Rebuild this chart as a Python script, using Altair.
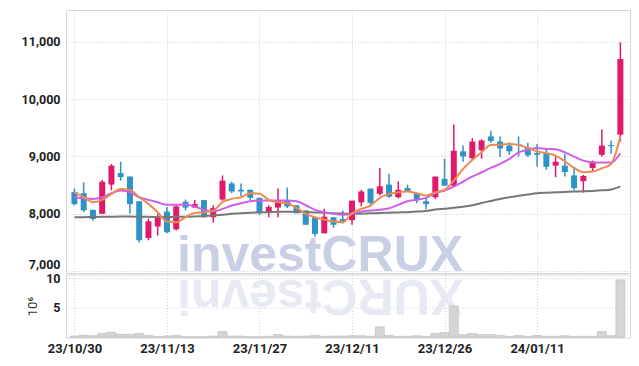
import json
import altair as alt
import pandas as pd

# ---- data ----
opens = [8380, 8360, 8070, 8000, 8510, 8710, 8650, 8220, 7580, 7780,
         8040, 7730, 8210, 8110, 8240, 7940, 8250, 8530, 8420, 8420,
         8280, 8030, 8110, 8240, 8150, 8060, 7940, 7660, 7940, 7910,
         7890, 8200, 8440, 8350, 8510, 8290, 8450, 8360, 8220, 8290,
         8610, 8490, 9090, 8970, 9110, 9350, 9260, 9190, 9210, 9160,
         9060, 9050, 8840, 8840, 8670, 8570, 8800, 9030, 9200, 9380]
closes = [8170, 8060, 7910, 8560, 8840, 8640, 8170, 7540, 7870, 7950,
          7680, 8130, 8110, 8170, 7940, 8100, 8580, 8390, 8390, 8280,
          8020, 8120, 8230, 8130, 8010, 7810, 7650, 7950, 7810, 7870,
          8230, 8390, 8190, 8480, 8300, 8420, 8390, 8240, 8170, 8650,
          8490, 9100, 9000, 9260, 9280, 9270, 9140, 9090, 9200, 9020,
          9030, 8820, 8910, 8730, 8450, 8660, 8890, 9190, 9180, 10700]
highs = [8440, 8550, 8070, 8590, 8870, 8910, 8650, 8220, 7920, 8000,
         8120, 8170, 8250, 8240, 8240, 8150, 8670, 8560, 8530, 8420,
         8280, 8150, 8440, 8460, 8150, 8060, 7940, 8090, 7940, 8060,
         8230, 8420, 8440, 8800, 8700, 8570, 8510, 8360, 8280, 8650,
         8960, 9560, 9190, 9320, 9300, 9450, 9350, 9250, 9350, 9240,
         9220, 9130, 9000, 9050, 8810, 8680, 8930, 9470, 9280, 10990]
lows = [8150, 8030, 7880, 8000, 8410, 8580, 8000, 7500, 7540, 7620,
        7660, 7710, 8060, 8100, 7940, 7850, 8230, 8360, 8310, 8230,
        7980, 7940, 7940, 8100, 8010, 7810, 7600, 7660, 7760, 7830,
        7810, 8130, 8160, 8320, 8280, 8270, 8380, 8190, 8080, 8260,
        8490, 8490, 8910, 8940, 8960, 9240, 8990, 9030, 9000, 8990,
        8820, 8770, 8640, 8650, 8410, 8370, 8730, 9000, 9050, 9260]
ma_short = [8376, 8290, 8203, 8244, 8348, 8435, 8418, 8290, 8174, 8028,
            7866, 7854, 7941, 8017, 8028, 8057, 8203, 8261, 8290, 8359,
            8350, 8244, 8203, 8185, 8105, 8000, 7941, 7900, 7866, 7854,
            8010, 8087, 8145, 8279, 8348, 8376, 8388, 8359, 8319, 8376,
            8418, 8580, 8784, 8941, 9073, 9202, 9207, 9220, 9202, 9150,
            9090, 9056, 9016, 8916, 8801, 8725, 8737, 8795, 8871, 9347]
ma_mid = [8290, 8272, 8261, 8290, 8359, 8406, 8376, 8290, 8244, 8203,
          8157, 8157, 8162, 8127, 8070, 8040, 8087, 8145, 8185, 8220,
          8232, 8232, 8232, 8232, 8220, 8150, 8070, 8030, 8000, 7985,
          8000, 8040, 8057, 8070, 8098, 8157, 8220, 8244, 8279, 8359,
          8406, 8476, 8563, 8650, 8725, 8801, 8871, 8958, 9073, 9115,
          9150, 9132, 9126, 9073, 8998, 8928, 8899, 8894, 8894, 9056]
ma_long = [7941, 7941, 7945, 7948, 7950, 7952, 7952, 7950, 7948, 7945,
           7945, 7948, 7950, 7955, 7960, 7970, 7985, 8000, 8012, 8020,
           8025, 8030, 8035, 8035, 8035, 8030, 8025, 8020, 8010, 8005,
           8000, 8005, 8010, 8015, 8020, 8025, 8030, 8040, 8050, 8075,
           8090, 8105, 8125, 8150, 8190, 8225, 8260, 8290, 8315, 8338,
           8358, 8368, 8375, 8382, 8388, 8393, 8400, 8410, 8425, 8480]
volume_m = [0.25, 0.4, 0.3, 0.7, 0.9, 0.55, 0.5, 0.7, 0.35, 0.15,
            0.25, 0.35, 0.15, 0.15, 0.15, 0.25, 1.0, 0.25, 0.25, 0.15,
            0.15, 0.2, 0.5, 0.25, 0.2, 0.25, 0.35, 0.2, 0.25, 0.25,
            0.3, 0.3, 0.2, 1.8, 0.35, 0.2, 0.2, 0.3, 0.2, 0.7,
            0.85, 5.3, 0.5, 0.7, 0.5, 0.5, 0.35, 0.2, 0.35, 0.2,
            0.35, 0.2, 0.2, 0.3, 0.2, 0.2, 0.2, 1.0, 0.3, 9.7]
tick_idx = [0, 10, 20, 30, 40, 50]
tick_labels = ["23/10/30", "23/11/13", "23/11/27", "23/12/11", "23/12/26", "24/01/11"]
price_ticks = [7000, 8000, 9000, 10000, 11000]
volume_ticks = [5, 10]
watermark = "investCRUX"

# ---- build table ----
n = len(opens)
df = pd.DataFrame({
    "i": list(range(n)), "open": opens, "high": highs, "low": lows, "close": closes,
    "ma_short": ma_short, "ma_mid": ma_mid, "ma_long": ma_long, "vol": volume_m,
})
df["dir"] = ["up" if c >= o else "down" for o, c in zip(opens, closes)]

RED = "#e2196b"
BLUE = "#2e93c6"
FONT = "Roboto"
GRID = "#c9cde0"

label_expr = f"{json.dumps(tick_labels)}[indexof({json.dumps(tick_idx)}, datum.value)]"
xscale = alt.Scale(domain=[-0.37, 59.5], nice=False, zero=False)

x_top = alt.X("i:Q", scale=xscale, title=None,
              axis=alt.Axis(values=tick_idx, labels=False, ticks=False, domain=False,
                            grid=True, gridColor=GRID, gridDash=[1, 2]))
x_bot = alt.X("i:Q", scale=xscale, title=None,
              axis=alt.Axis(values=tick_idx, labelExpr=label_expr, ticks=False, domain=False,
                            labelPadding=5, grid=True, gridColor=GRID, gridDash=[1, 2],
                            labelFont=FONT, labelFontSize=13, labelFontWeight="bold",
                            labelColor="#222"))

yscale = alt.Scale(domain=[6969, 11554], nice=False, zero=False)
y_price = alt.Y("low:Q", scale=yscale, title=None,
                axis=alt.Axis(values=price_ticks, format=",d", ticks=False, domain=False,
                              labelPadding=6, grid=True, gridColor=GRID, gridDash=[1, 2],
                              labelFont=FONT, labelFontSize=12.5, labelFontWeight="bold",
                              labelColor="#222",
                              labelBaseline=alt.condition("datum.value == 7000",
                                                          alt.value("bottom"),
                                                          alt.value("middle"))))

color = alt.Color("dir:N", scale=alt.Scale(domain=["up", "down"], range=[RED, BLUE]), legend=None)

base = alt.Chart(df)

wm = alt.Chart(pd.DataFrame({"t": [watermark]})).mark_text(
    align="left", baseline="alphabetic", font="'Liberation Sans', Arial, sans-serif",
    fontSize=50, fontWeight="bold", color="#c9d0e6"
).encode(text="t:N", x=alt.value(111), y=alt.value(261))

wicks = base.mark_rule(strokeWidth=1.5).encode(x=x_top, y=y_price, y2="high:Q", color=color)
bodies = base.mark_bar(size=6).encode(x=x_top, y=alt.Y("open:Q", scale=yscale), y2="close:Q", color=color)

line_long = base.mark_line(color="#777777", strokeWidth=2, interpolate="monotone").encode(
    x=x_top, y=alt.Y("ma_long:Q", scale=yscale))
line_mid = base.mark_line(color="#cf5fe8", strokeWidth=2, interpolate="monotone").encode(
    x=x_top, y=alt.Y("ma_mid:Q", scale=yscale))
line_short = base.mark_line(color="#ec8a52", strokeWidth=2, interpolate="monotone").encode(
    x=x_top, y=alt.Y("ma_short:Q", scale=yscale))

top = alt.layer(wm, wicks, bodies, line_long, line_mid, line_short).properties(width=564, height=263)

wm_ref = alt.Chart(pd.DataFrame({"t": [watermark[::-1]]})).mark_text(
    align="right", baseline="alphabetic", font="'Liberation Sans', Arial, sans-serif",
    fontSize=50, fontWeight="bold", color="#e8eaf3", angle=180
).encode(text="t:N", x=alt.value(111), y=alt.value(5))

vol_bars = base.mark_bar(size=9, color="#d5d5d5", stroke="#bcbcbc", strokeWidth=0.6).encode(
    x=x_bot,
    y=alt.Y("vol:Q", scale=alt.Scale(domain=[0, 10.6], nice=False),
            axis=alt.Axis(values=volume_ticks, ticks=False, domain=False, labelPadding=6,
                          grid=True, gridColor=GRID, gridDash=[1, 2],
                          labelFont=FONT, labelFontSize=12.5, labelFontWeight="bold",
                          labelColor="#222", title="10⁶", titleFont="Roboto",
                          titleFontSize=13, titleFontWeight="normal", titleColor="#333",
                          titlePadding=6)),
)
bottom = alt.layer(wm_ref, vol_bars).properties(width=564, height=63)

chart = alt.vconcat(top, bottom, spacing=1.5, bounds="flush").properties(
    padding={"left": 12, "top": 1, "right": 0, "bottom": 0}
).configure_view(stroke="#d6d6d6").resolve_scale(x="shared")

chart.save("out.html", embed_options={"renderer": "svg", "actions": False})
